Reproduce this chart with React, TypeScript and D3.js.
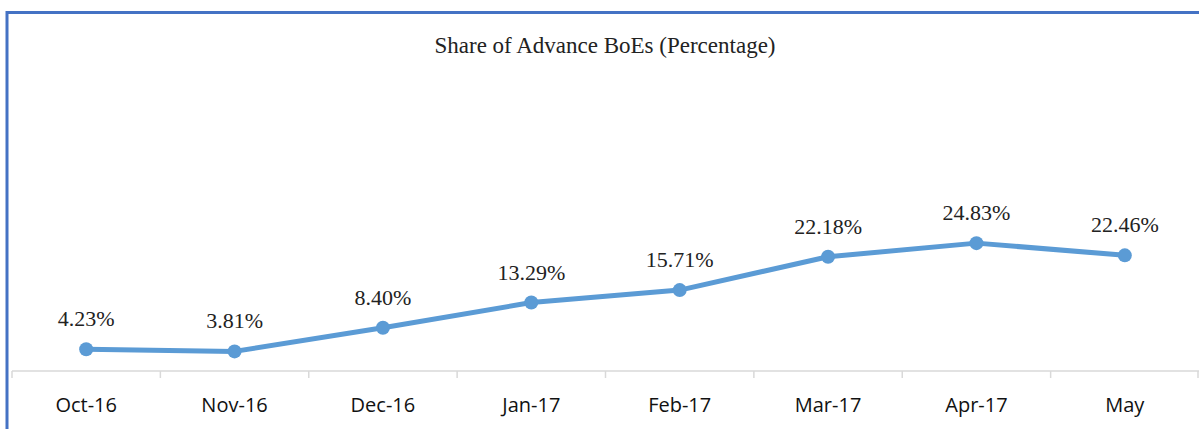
import React, { useRef, useEffect } from "react";
import * as d3 from "d3";

const months = ["Oct-16", "Nov-16", "Dec-16", "Jan-17", "Feb-17", "Mar-17", "Apr-17", "May"];
const shares = [4.23, 3.81, 8.4, 13.29, 15.71, 22.18, 24.83, 22.46];
const title = "Share of Advance BoEs (Percentage)";

const App = () => {
  const svgRef = useRef<SVGSVGElement>(null);

  useEffect(() => {
    const width = 1199;
    const height = 429;
    const svg = d3.select(svgRef.current);
    svg.selectAll("*").remove();

    svg.append("rect").attr("width", width).attr("height", height).attr("fill", "white");

    // frame (cropped on the right and bottom)
    svg
      .append("rect")
      .attr("x", 7)
      .attr("y", 12.5)
      .attr("width", width + 20)
      .attr("height", height + 20)
      .attr("fill", "none")
      .attr("stroke", "#4472C4")
      .attr("stroke-width", 3);

    svg
      .append("text")
      .attr("x", 605)
      .attr("y", 53)
      .attr("text-anchor", "middle")
      .attr("font-family", "'Liberation Serif', serif")
      .attr("font-size", 23)
      .attr("fill", "#222")
      .text(title);

    const x = d3.scaleBand().domain(months).range([12, 1199]);
    const y = d3.scaleLinear().domain([0, 60]).range([371, 62]);

    // category axis
    const axis = svg.append("g");
    axis
      .append("line")
      .attr("x1", 12)
      .attr("x2", 1199)
      .attr("y1", 371)
      .attr("y2", 371)
      .attr("stroke", "#D9D9D9")
      .attr("stroke-width", 1.5);
    const edges = months.map((m) => x(m)!).concat([x.range()[1] - 1]);
    axis
      .selectAll(".tick")
      .data(edges)
      .enter()
      .append("line")
      .attr("x1", (d) => d)
      .attr("x2", (d) => d)
      .attr("y1", 371)
      .attr("y2", 378)
      .attr("stroke", "#D9D9D9")
      .attr("stroke-width", 1.5);
    axis
      .selectAll(".lbl")
      .data(months)
      .enter()
      .append("text")
      .attr("x", (d) => x(d)! + x.bandwidth() / 2)
      .attr("y", 412)
      .attr("text-anchor", "middle")
      .attr("font-family", "'Open Sans', sans-serif")
      .attr("font-size", 20)
      .attr("fill", "#111")
      .text((d) => d);

    const pts = months.map((m, i) => ({ m, v: shares[i] }));
    const line = d3
      .line<{ m: string; v: number }>()
      .x((d) => x(d.m)! + x.bandwidth() / 2)
      .y((d) => y(d.v));

    svg
      .append("path")
      .datum(pts)
      .attr("d", line)
      .attr("fill", "none")
      .attr("stroke", "#5B9BD5")
      .attr("stroke-width", 5)
      .attr("stroke-linejoin", "round");

    svg
      .selectAll(".pt")
      .data(pts)
      .enter()
      .append("circle")
      .attr("cx", (d) => x(d.m)! + x.bandwidth() / 2)
      .attr("cy", (d) => y(d.v))
      .attr("r", 7)
      .attr("fill", "#5B9BD5");

    svg
      .selectAll(".val")
      .data(pts)
      .enter()
      .append("text")
      .attr("x", (d) => x(d.m)! + x.bandwidth() / 2)
      .attr("y", (d) => y(d.v) - 23)
      .attr("text-anchor", "middle")
      .attr("font-family", "'Liberation Serif', serif")
      .attr("font-size", 22)
      .attr("fill", "#222")
      .text((d) => d.v.toFixed(2) + "%");
  }, []);

  return (
    <svg
      ref={svgRef}
      width={1199}
      height={429}
      style={{ position: "absolute", left: 0, top: 0, display: "block" }}
    ></svg>
  );
};

export default App;
